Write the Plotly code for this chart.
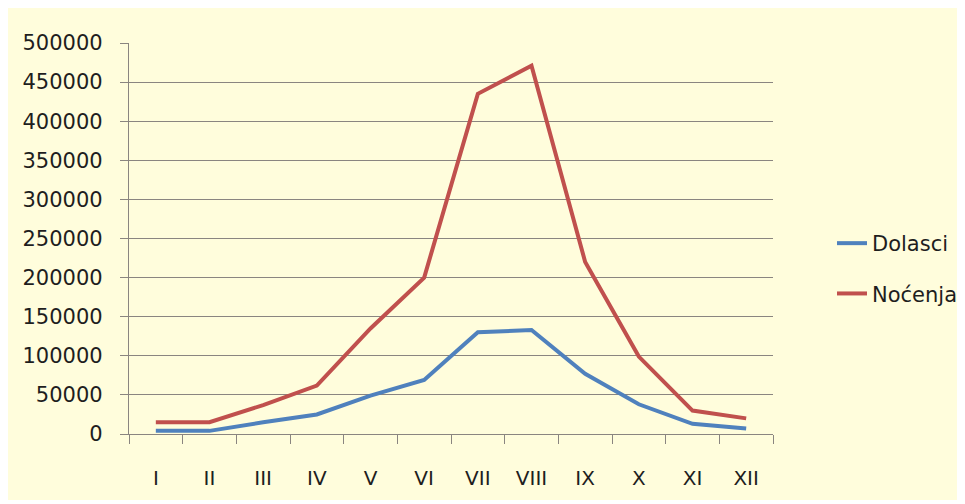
import plotly.graph_objects as go

months = ["I", "II", "III", "IV", "V", "VI", "VII", "VIII", "IX", "X", "XI", "XII"]
dolasci = [4000, 4000, 15000, 25000, 49000, 69000, 130000, 133000, 77000, 38000, 13000, 7000]
nocenja = [15000, 15000, 37000, 62000, 135000, 200000, 435000, 471000, 220000, 99000, 30000, 20000]
y_ticks = [0, 50000, 100000, 150000, 200000, 250000, 300000, 350000, 400000, 450000, 500000]

BG = "#FFFDDC"
GRID = "#8A8580"
FONT = "DejaVu Sans"

fig = go.Figure()
fig.add_trace(go.Scatter(x=months, y=dolasci, mode="lines", name="Dolasci",
                         line=dict(color="#4F81BD", width=4), legendgroup="a"))
fig.add_trace(go.Scatter(x=months, y=nocenja, mode="lines", name="Noćenja",
                         line=dict(color="#C0504D", width=4), legendgroup="b"))

W, H = 957, 492
L, T = 121, 35
plot_right, plot_bottom = 765, 426
R, B = W - plot_right, H - plot_bottom
pw, ph = plot_right - L, plot_bottom - T

def px2x(px):
    return (px - L) / pw

def py2y(py):
    return (plot_bottom - py) / ph

fig.update_layout(
    width=W, height=H,
    margin=dict(l=L, r=R, t=T, b=B, autoexpand=False),
    paper_bgcolor=BG,
    plot_bgcolor=BG,
    font=dict(family=FONT, size=21, color="#1E1E1E"),
    legend=dict(x=px2x(824), y=py2y(215), xanchor="left", yanchor="top",
                bgcolor="rgba(0,0,0,0)", tracegroupgap=20,
                font=dict(family=FONT, size=21, color="#1E1E1E")),
    xaxis=dict(type="category", tickson="boundaries", ticks="outside", ticklen=9,
               tickcolor=GRID, tickwidth=1.3, showline=True, linecolor=GRID, linewidth=1.3,
               showgrid=False, ticklabelstandoff=26, range=[-0.5, 11.5], automargin=False,
               tickfont=dict(family=FONT, size=20)),
    yaxis=dict(range=[0, 500000], tickvals=y_ticks, ticktext=[str(v) for v in y_ticks],
               showgrid=True, gridcolor=GRID, gridwidth=1.3, zeroline=False,
               ticks="outside", ticklen=8, tickcolor=GRID, tickwidth=1.3, automargin=False,
               showline=True, linecolor=GRID, linewidth=1.3, ticklabelstandoff=13,
               tickfont=dict(family=FONT, size=21)),
)

fig.write_html("out.html")
